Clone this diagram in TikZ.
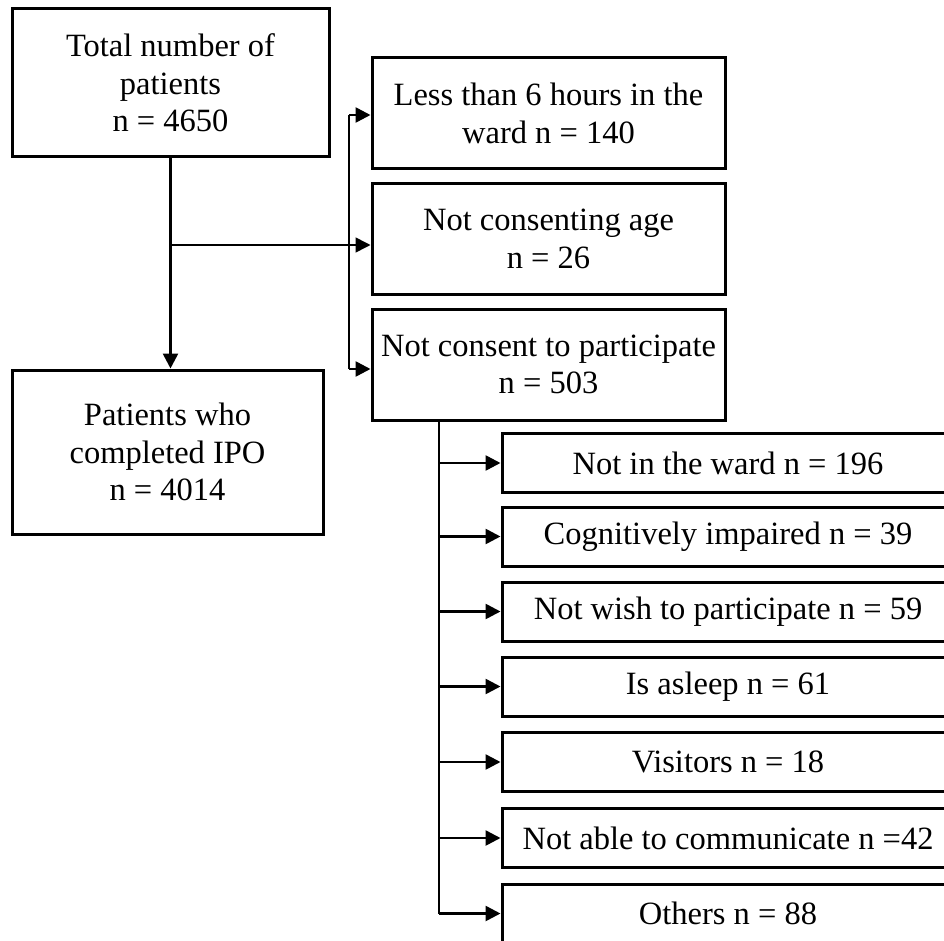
\documentclass[tikz,border=0pt]{standalone}
\usepackage{fontspec}
\setmainfont{Liberation Serif}
\usetikzlibrary{arrows.meta}

\tikzset{
  box/.style={draw, line width=3pt, align=center, inner sep=0pt,
              font=\fontsize{32.5}{37.5}\selectfont},
  bigbox/.style={box, minimum width=353pt, minimum height=111pt},
  subbox/.style={box, minimum width=452pt, minimum height=59pt},
  arr/.style={line width=2.6pt, -{Triangle[length=15pt,width=15pt]}},
  thinline/.style={line width=1.6pt}
}

\begin{document}
\begin{tikzpicture}[x=1pt, y=-1pt]
                \useasboundingbox (0,0) rectangle (944,941);

                % left column
                \node[box, minimum width=317pt, minimum height=148pt] (total) at (170.5,83)
                    {Total number of\\patients\\n = 4650};
                \node[box, minimum width=311pt, minimum height=164pt] (ipo) at (167.5,452)
                    {Patients who\\completed IPO\\n = 4014};

                % exclusions
                \node[bigbox] (less) at (548.5,113.5) {Less than 6 hours in the\\ward n = 140};
                \node[bigbox, minimum height=110pt] (notage) at (548.5,239) {Not consenting age\\n = 26};
                \node[bigbox] (notcons) at (548.5,364.5) {Not consent to participate\\n = 503};

                % reasons for not consenting
                \node[subbox] (ward) at (728,463) {Not in the ward n = 196};
                \node[subbox] (cogn) at (728,536.5) {Cognitively impaired n = 39};
                \node[subbox] (wish) at (728,611.5) {Not wish to participate n = 59};
                \node[subbox] (asleep) at (728,686.5) {Is asleep n = 61};
                \node[subbox] (visit) at (728,762) {Visitors n = 18};
                \node[subbox] (comm) at (728,838) {Not able to communicate n =42};
                \node[subbox] (others) at (728,913.5) {Others n = 88};

                % connectors
                \draw[arr] (total.south) -- (total.south |- ipo.north);
                \coordinate (split) at (171,245);
                \draw[thinline, -{Triangle[length=15pt,width=15pt]}] (split) -- (split -| notage.west);

                \coordinate (b1) at (349,115);
                \coordinate (b2) at (349,369);
                \draw[thinline] (b1) -- (b2);
                \draw[arr] (b1) -- (b1 -| less.west);
                \draw[arr] (b2) -- (b2 -| notcons.west);

                \coordinate (c1) at (439,420);
                \coordinate (c2) at (439,913.5);
                \draw[thinline] (c1) -- (c2);
                \foreach \n in {ward,cogn,wish,asleep,visit,comm,others}
                    \draw[arr] (c1 |- \n.west) -- (\n.west);
            \end{tikzpicture}
\end{document}
